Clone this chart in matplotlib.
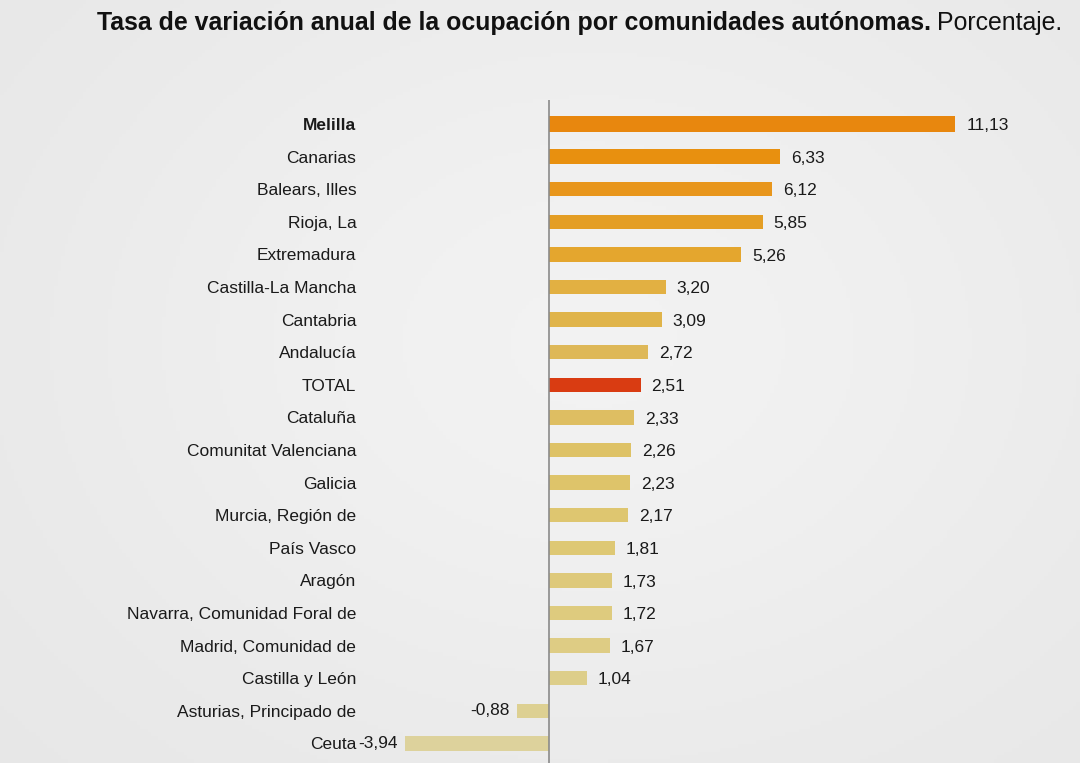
import matplotlib
matplotlib.use("Agg")
import matplotlib.pyplot as plt
import numpy as np

categories = ["Melilla", "Canarias", "Balears, Illes", "Rioja, La", "Extremadura",
              "Castilla-La Mancha", "Cantabria", "Andalucía", "TOTAL", "Cataluña",
              "Comunitat Valenciana", "Galicia", "Murcia, Región de", "País Vasco",
              "Aragón", "Navarra, Comunidad Foral de", "Madrid, Comunidad de",
              "Castilla y León", "Asturias, Principado de", "Ceuta"]
values = [11.13, 6.33, 6.12, 5.85, 5.26, 3.20, 3.09, 2.72, 2.51, 2.33,
          2.26, 2.23, 2.17, 1.81, 1.73, 1.72, 1.67, 1.04, -0.88, -3.94]
value_labels = ["11,13", "6,33", "6,12", "5,85", "5,26", "3,20", "3,09", "2,72", "2,51", "2,33",
                "2,26", "2,23", "2,17", "1,81", "1,73", "1,72", "1,67", "1,04", "-0,88", "-3,94"]
bar_colors = ["#E8870E", "#E8900F", "#E8961C", "#E49E24", "#E4A62E", "#E2B042", "#E0B44A",
              "#DEB858", "#D93C12", "#DEBE62", "#DEC266", "#DEC46A", "#DEC670", "#DEC874",
              "#DEC97A", "#DECB7E", "#DECC84", "#DDCE8A", "#DDD092", "#DDD29C"]

plt.rcParams['font.family'] = ['Liberation Sans', 'DejaVu Sans']

W, H = 1080, 763
fig = plt.figure(figsize=(W / 100, H / 100), dpi=100)
fig.patch.set_facecolor("#e4e4e4")

# subtle photo-like background lighting
bg = fig.add_axes([0, 0, 1, 1], zorder=-10)
yy, xx = np.mgrid[0:1:200j, 0:1:300j]
light = 0.90 + 0.05 * np.exp(-(((xx - 0.55) / 0.55) ** 2 + ((yy - 0.45) / 0.6) ** 2))
bg.imshow(np.dstack([light, light, light]), extent=[0, 1, 0, 1], aspect="auto", vmin=0, vmax=1)
bg.axis("off")

x0 = 549.0
ppu = 36.5
ax_left_px, ax_right_px = 400.0, 1080.0
ax_top_px, ax_bot_px = 100.0, 763.0
row0, rowstep = 124.0, 32.6

ax = fig.add_axes([ax_left_px / W, 1 - ax_bot_px / H, (ax_right_px - ax_left_px) / W,
                   (ax_bot_px - ax_top_px) / H])
ax.set_facecolor("none")
ax.set_xlim((ax_left_px - x0) / ppu, (ax_right_px - x0) / ppu)
ax.set_ylim((ax_bot_px - row0) / rowstep, (ax_top_px - row0) / rowstep)

y = np.arange(len(categories))
heights = [0.5 if i == 0 else 0.44 for i in range(len(categories))]
ax.barh(y, values, height=heights, color=bar_colors, zorder=2)
ax.axvline(0, color="#8a8a8a", lw=1.2, zorder=3)

for yi, v, lab in zip(y, values, value_labels):
    if v >= 0:
        ax.text(v + 0.3, yi + 0.05, lab, ha="left", va="center", fontsize=12.5, color="#1a1a1a")
    else:
        ax.text(v - 0.2, yi, lab, ha="right", va="center", fontsize=12.5, color="#1a1a1a")

ax.set_yticks(y)
ax.set_yticklabels(categories, fontsize=12.5, color="#1a1a1a")
ax.tick_params(axis="y", length=0, pad=31.5)
ax.tick_params(axis="x", bottom=False, labelbottom=False)
for s in ax.spines.values():
    s.set_visible(False)
for lbl in ax.get_yticklabels():
    if lbl.get_text() == "Melilla":
        lbl.set_fontweight("bold")

t1 = fig.text(97 / W, 1 - 23 / H, "Tasa de variación anual de la ocupación por comunidades autónomas.",
              fontsize=17.9, fontweight="bold", ha="left", va="center", color="#111111")
fig.canvas.draw()
bb = t1.get_window_extent()
fig.text((bb.x1 + 6) / W, 1 - 23 / H, "Porcentaje.", fontsize=17.9, ha="left", va="center",
         color="#111111")

fig.savefig("out.png", dpi=100, facecolor=fig.get_facecolor())
